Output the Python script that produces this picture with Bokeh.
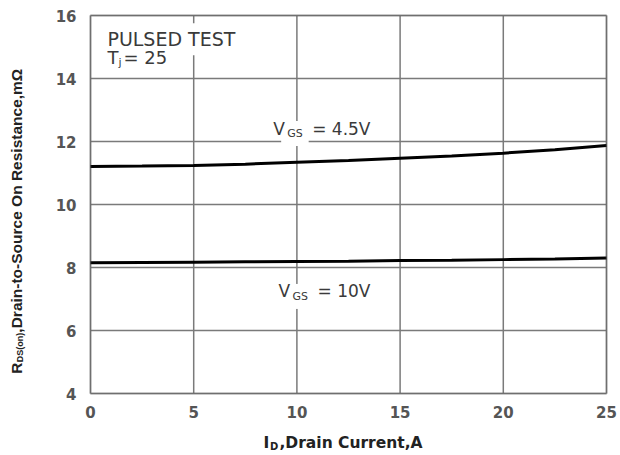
import math
from bokeh.plotting import figure
from bokeh.models import Label, FixedTicker, Range1d, BoxAnnotation
from bokeh.embed import file_html
from bokeh.resources import INLINE

# Data
drain_current = [0, 2.5, 5, 7.5, 10, 12.5, 15, 17.5, 20, 22.5, 25]
rds_vgs_4v5 = [11.21, 11.22, 11.24, 11.28, 11.34, 11.40, 11.47, 11.54, 11.63, 11.74, 11.87]
rds_vgs_10v = [8.15, 8.16, 8.17, 8.18, 8.19, 8.20, 8.22, 8.23, 8.25, 8.27, 8.30]
x_ticks = [0, 5, 10, 15, 20, 25]
y_ticks = [4, 6, 8, 10, 12, 14, 16]

W, H = 620, 455
# frame spans the whole canvas; the chart box (0..25, 4..16) sits inside it
x0, x1, y0, y1 = x_ticks[0], x_ticks[-1], y_ticks[0], y_ticks[-1]
sx = (606 - 90) / (x1 - x0)
sy = (393 - 15) / (y1 - y0)
p = figure(width=W, height=H, output_backend="svg", toolbar_location=None,
           x_range=Range1d(x0 - 90 / sx, x1 + (W - 606) / sx),
           y_range=Range1d(y0 - (H - 393) / sy, y1 + 15 / sy),
           min_border=0, min_border_left=0, min_border_right=0,
           min_border_top=0, min_border_bottom=0)
p.outline_line_color = None
p.background_fill_color = "white"
p.border_fill_color = "white"
p.xgrid.visible = False
p.ygrid.visible = False

# grid lines from tick arrays
grid_color = "#7a7a7a"
p.segment(x0=x_ticks, y0=[y0] * len(x_ticks), x1=x_ticks, y1=[y1] * len(x_ticks),
          line_color=grid_color, line_width=1.5)
p.segment(x0=[x0] * len(y_ticks), y0=y_ticks, x1=[x1] * len(y_ticks), y1=y_ticks,
          line_color=grid_color, line_width=1.5)

p.add_layout(BoxAnnotation(left=x0, right=x1, bottom=y0, top=y1, fill_alpha=0,
                           line_color="#555555", line_width=2))

for ax in (p.xaxis[0], p.yaxis[0]):
    ax.axis_line_color = None
    ax.major_tick_line_color = None
    ax.minor_tick_line_color = None
    ax.major_tick_out = 0
    ax.major_tick_in = 0
    ax.major_label_text_font = "DejaVu Sans"
    ax.major_label_text_font_style = "bold"
    ax.major_label_text_font_size = "15px"
    ax.major_label_text_color = "#555555"

p.xaxis[0].ticker = FixedTicker(ticks=x_ticks)
p.yaxis[0].ticker = FixedTicker(ticks=y_ticks)
p.xaxis[0].fixed_location = y0
p.yaxis[0].fixed_location = x0
p.xaxis[0].bounds = (x0, x1)
p.yaxis[0].bounds = (y0, y1)
p.xaxis[0].major_label_standoff = 12
p.yaxis[0].major_label_standoff = 14

p.line(drain_current, rds_vgs_4v5, line_color="black", line_width=3)
p.line(drain_current, rds_vgs_10v, line_color="black", line_width=3)

txt = "#3a3a3a"

def lab(x, y, text, size, xo=0, yo=0, font="DejaVu Sans", style="normal", color=txt,
        angle=0, bg=None, pad=0, align="left", baseline="middle"):
    l = Label(x=x, y=y, text=text, x_offset=xo, y_offset=yo,
              text_font=font, text_font_size=f"{size}px", text_font_style=style,
              text_color=color, angle=angle, text_align=align, text_baseline=baseline)
    if bg:
        l.background_fill_color = bg
        l.padding = pad
        l.x_offset = xo - pad
    p.add_layout(l)

# PULSED TEST annotation
lab(0.82, 15.25, "PULSED TEST", 19, bg="white", pad=5)
lab(0.82, 14.68, "T", 18)
lab(0.82, 14.68, "j", 11, xo=11, yo=-5)
lab(0.82, 14.68, "= 25", 18, xo=16)

# VGS = 4.5V label
lab(8.85, 12.41, "GS", 11, xo=14, yo=-5, bg="white", pad=6)
lab(8.85, 12.41, "V", 17)
lab(8.85, 12.41, "= 4.5V", 17, xo=39)

# VGS = 10V label
lab(9.11, 7.24, "GS", 11, xo=14, yo=-5, bg="white", pad=6)
lab(9.11, 7.24, "V", 17)
lab(9.11, 7.24, "= 10V", 17, xo=39)

# X axis label
lab(8.38, 2.44, "I", 15.5, style="bold", color="#222222")
lab(8.38, 2.44, "D", 10, xo=6.5, yo=-4, style="bold", color="#222222")
lab(8.38, 2.44, ",Drain Current,A", 15.5, xo=16, style="bold", color="#222222")

# Y axis label (rotated)
a = math.pi / 2
lab(-3.59, 4.63, "R", 15.5, angle=a, style="bold", font="Liberation Sans", color="#222222")
lab(-3.59, 4.63, "DS(on)", 9, xo=4, yo=11.5, angle=a, style="bold", font="Liberation Sans", color="#222222")
lab(-3.59, 4.63, ",Drain-to-Source On Resistance,mΩ", 15.5, yo=41, angle=a, style="bold",
    font="Liberation Sans", color="#222222")

open("out.html", "w").write(file_html(p, INLINE))
